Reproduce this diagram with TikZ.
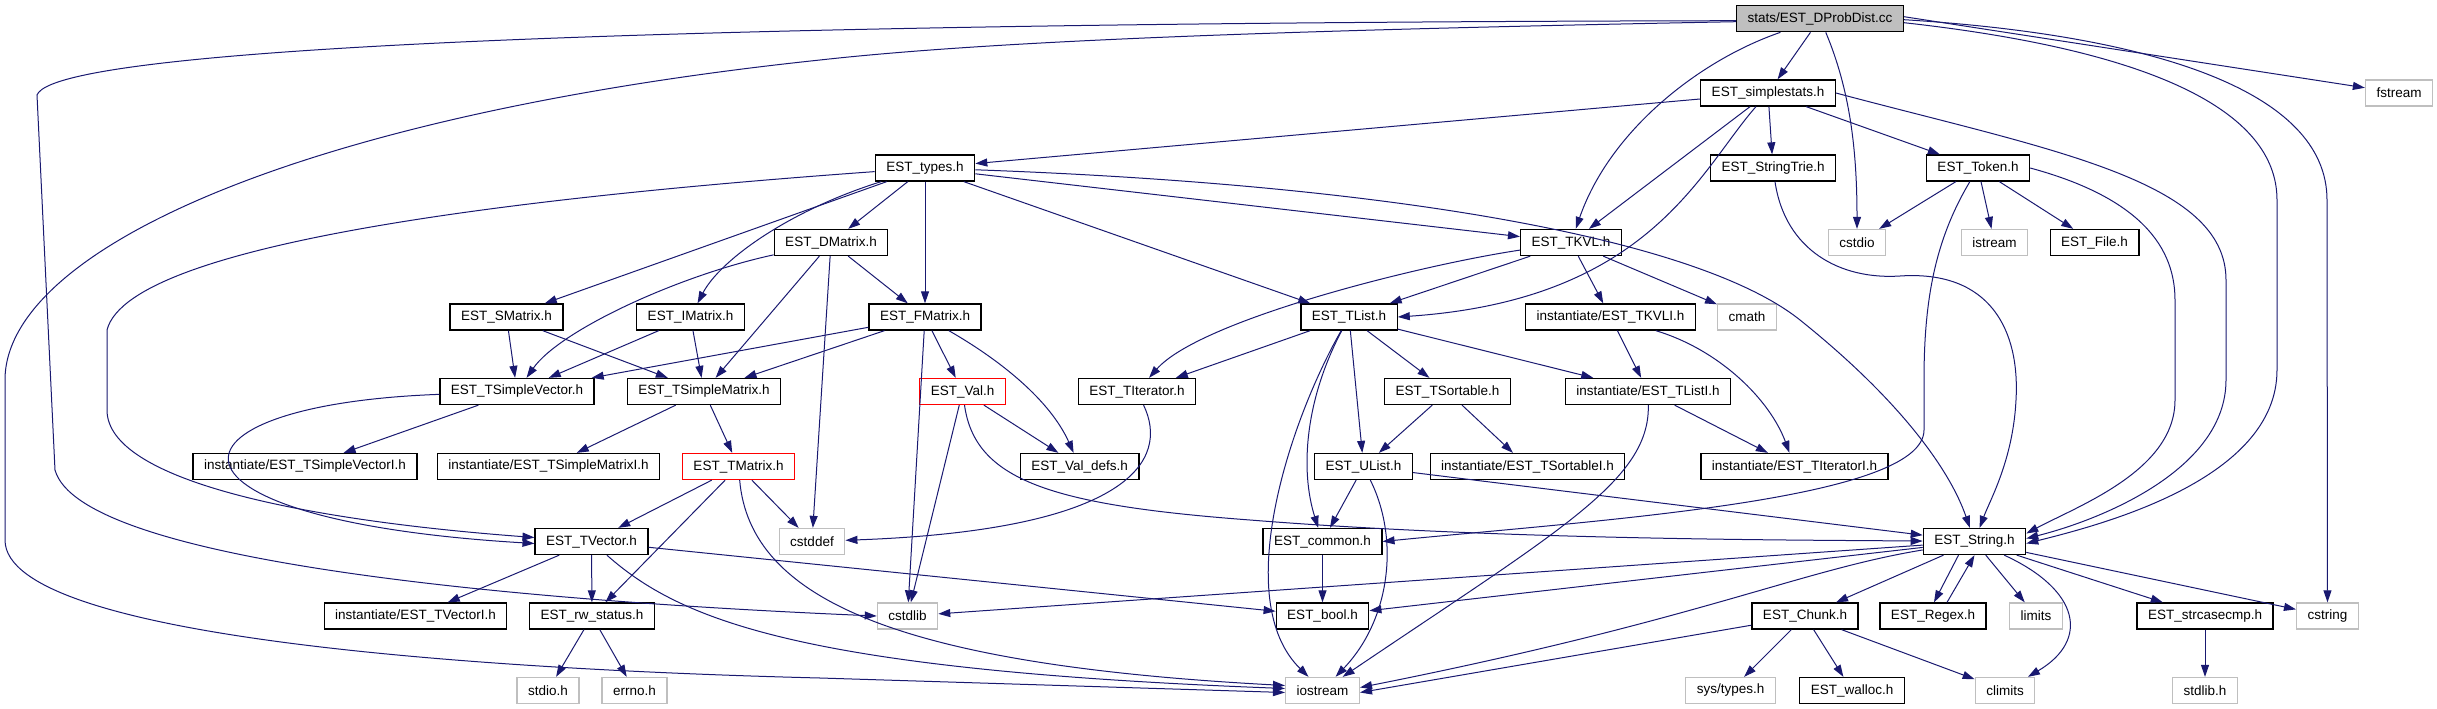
\documentclass[tikz,border=0pt]{standalone}
\usepackage{fontspec}
\setmainfont{Liberation Sans}
\usepackage{xcolor}
\usetikzlibrary{arrows.meta}
\definecolor{edgeblue}{HTML}{191970}
\definecolor{sysgray}{HTML}{BFBFBF}

\begin{document}
\begin{tikzpicture}[
x=1pt,y=-1pt,
every node/.style={
rectangle,
inner xsep=11pt,
inner ysep=0pt,
minimum height=26pt,
line width=1.3pt,
font=\fontsize{13.5}{16}\selectfont
},
hdr/.style={draw=black},
syshdr/.style={draw=sysgray},
badhdr/.style={draw=red},
rootfile/.style={draw=black,fill=sysgray},
dep/.style={draw=edgeblue,line width=1pt,-{Triangle[length=12pt,width=8pt]}}
]
\useasboundingbox (0,0) rectangle (2437,709);

\node[rootfile] (root) at (1820,18.7) {stats/EST\_DProbDist.cc};

\node[hdr] (simplestats) at (1768,93) {EST\_simplestats.h};
\node[syshdr] (fstream) at (2399,93) {fstream};

\node[hdr] (types) at (925,168) {EST\_types.h};
\node[hdr] (stringtrie) at (1773,168) {EST\_StringTrie.h};
\node[hdr] (token) at (1978,168) {EST\_Token.h};

\node[hdr] (dmatrix) at (831,242.5) {EST\_DMatrix.h};
\node[hdr] (tkvl) at (1571,242.5) {EST\_TKVL.h};
\node[syshdr] (cstdio) at (1857,242.5) {cstdio};
\node[syshdr] (istream) at (1994.5,242.5) {istream};
\node[hdr] (file) at (2094.6,242.5) {EST\_File.h};

\node[hdr] (smatrix) at (506.5,317) {EST\_SMatrix.h};
\node[hdr] (imatrix) at (690.5,317) {EST\_IMatrix.h};
\node[hdr] (fmatrix) at (925,317) {EST\_FMatrix.h};
\node[hdr] (tlist) at (1349,317) {EST\_TList.h};
\node[hdr] (tkvli) at (1610.5,317) {instantiate/EST\_TKVLI.h};
\node[syshdr] (cmath) at (1747,317) {cmath};

\node[hdr] (tsvector) at (517,391.5) {EST\_TSimpleVector.h};
\node[hdr] (tsmatrix) at (704,391.5) {EST\_TSimpleMatrix.h};
\node[badhdr] (val) at (962.6,391.5) {EST\_Val.h};
\node[hdr] (titerator) at (1137,391.5) {EST\_TIterator.h};
\node[hdr] (tsortable) at (1447.5,391.5) {EST\_TSortable.h};
\node[hdr] (tlisti) at (1648,391.5) {instantiate/EST\_TListI.h};

\node[hdr] (tsvectori) at (305,466.5) {instantiate/EST\_TSimpleVectorI.h};
\node[hdr] (tsmatrixi) at (548.5,466.5) {instantiate/EST\_TSimpleMatrixI.h};
\node[badhdr] (tmatrix) at (738.5,466.5) {EST\_TMatrix.h};
\node[hdr] (valdefs) at (1079.7,466.5) {EST\_Val\_defs.h};
\node[hdr] (ulist) at (1363.6,466.5) {EST\_UList.h};
\node[hdr] (tsortablei) at (1527.5,466.5) {instantiate/EST\_TSortableI.h};
\node[hdr] (titeratori) at (1794.5,466.5) {instantiate/EST\_TIteratorI.h};

\node[hdr] (tvector) at (591.5,541.5) {EST\_TVector.h};
\node[syshdr] (cstddef) at (812,541.5) {cstddef};
\node[hdr] (common) at (1322.5,541.5) {EST\_common.h};
\node[hdr] (string) at (1974.5,541.5) {EST\_String.h};

\node[hdr] (tvectori) at (415.5,616) {instantiate/EST\_TVectorI.h};
\node[hdr] (rwstatus) at (592,616) {EST\_rw\_status.h};
\node[syshdr] (cstdlib) at (907.5,616) {cstdlib};
\node[hdr] (bool) at (1322.5,616) {EST\_bool.h};
\node[hdr] (chunk) at (1805,616) {EST\_Chunk.h};
\node[hdr] (regex) at (1933,616) {EST\_Regex.h};
\node[syshdr] (limits) at (2036,616) {limits};
\node[hdr] (strcasecmp) at (2205,616) {EST\_strcasecmp.h};
\node[syshdr] (cstring) at (2327.5,616) {cstring};

\node[syshdr] (stdioh) at (548,690.5) {stdio.h};
\node[syshdr] (errno) at (634.5,690.5) {errno.h};
\node[syshdr] (iostream) at (1322.5,690.5) {iostream};
\node[syshdr] (systypes) at (1730.5,690.5) {sys/types.h};
\node[hdr] (walloc) at (1852,690.5) {EST\_walloc.h};
\node[syshdr] (climits) at (2005,690.5) {climits};
\node[syshdr] (stdlibh) at (2205,690.5) {stdlib.h};

\draw[dep] (root) -- (simplestats);
\draw[dep] (root) .. controls (1700,60) and (1610,130) .. (tkvl);
\draw[dep] (root) .. controls (1850,90) and (1857,150) .. (cstdio);
\draw[dep] ([yshift=2pt]root.east) -- (fstream);
\draw[dep] ([yshift=-4pt]root.east) .. controls (2150,50) and (2277,110) .. (2277,200) -- (2277,370) .. controls (2277,480) and (2100,525) .. ([yshift=-2pt]string.east);
\draw[dep] ([yshift=-1pt]root.east) .. controls (2150,35) and (2327,90) .. (2327,200) -- (cstring);
\draw[dep] ([yshift=-2pt]root.west) .. controls (1000,22) and (60,35) .. (37,95) -- (55,470) .. controls (80,560) and (500,600) .. (cstdlib.west);
\draw[dep] ([yshift=-3pt]root.west) .. controls (1300,30) and (1000,40) .. (820,60) .. controls (300,115) and (5,250) .. (5,380) -- (5,540) .. controls (5,640) and (500,670) .. (820,678) -- ([yshift=-2pt]iostream.west);

\draw[dep] (simplestats) -- (types);
\draw[dep] (simplestats) -- (tkvl);
\draw[dep] (simplestats) .. controls (1700,170) and (1650,300) .. (tlist.east);
\draw[dep] (simplestats) -- (stringtrie);
\draw[dep] (simplestats) -- (token);
\draw[dep] (simplestats.east) .. controls (2050,150) and (2226,180) .. (2226,280) -- (2226,380) .. controls (2226,470) and (2100,520) .. ([yshift=3pt]string.east);

\draw[dep] (stringtrie) .. controls (1785,250) and (1840,280) .. (1900,276) .. controls (1990,270) and (2020,330) .. (2016,400) .. controls (2013,460) and (1990,500) .. (string);

\draw[dep] (token) -- (cstdio);
\draw[dep] (token) -- (istream);
\draw[dep] (token) -- (file);
\draw[dep] (token.east) .. controls (2130,195) and (2175,240) .. (2175,300) -- (2175,400) .. controls (2175,470) and (2080,505) .. ([yshift=8pt]string.east);
\draw[dep] (token) .. controls (1935,240) and (1924,300) .. (1924,380) -- (1924,430) .. controls (1924,500) and (1600,520) .. (common.east);

\draw[dep] (types) .. controls (550,195) and (130,240) .. (107,330) -- (107,410) .. controls (107,480) and (300,520) .. ([yshift=4pt]tvector.west);
\draw[dep] (types) -- (smatrix);
\draw[dep] (types) .. controls (790,210) and (720,260) .. (imatrix);
\draw[dep] (types) -- (dmatrix);
\draw[dep] (types) -- (fmatrix);
\draw[dep] (types) -- (tlist);
\draw[dep] (types) -- (tkvl);
\draw[dep] (types) .. controls (1400,185) and (1700,240) .. (1800,320) .. controls (1900,400) and (1950,470) .. (string);

\draw[dep] (dmatrix) -- (fmatrix);
\draw[dep] (dmatrix) -- (cstddef);
\draw[dep] (dmatrix) -- (tsmatrix);
\draw[dep] (dmatrix) .. controls (680,275) and (560,330) .. (tsvector);

\draw[dep] (smatrix) -- (tsvector);
\draw[dep] (smatrix) -- (tsmatrix);
\draw[dep] (imatrix) -- (tsvector);
\draw[dep] (imatrix) -- (tsmatrix);

\draw[dep] (fmatrix) -- (tsvector);
\draw[dep] (fmatrix) -- (tsmatrix);
\draw[dep] (fmatrix) -- (cstdlib);
\draw[dep] (fmatrix) -- (val);
\draw[dep] (fmatrix) .. controls (1000,360) and (1050,400) .. (valdefs);

\draw[dep] (tkvl) -- (tlist);
\draw[dep] (tkvl) -- (tkvli);
\draw[dep] (tkvl) -- (cmath);
\draw[dep] (tkvl) .. controls (1420,265) and (1200,320) .. (titerator);

\draw[dep] (tlist) -- (titerator);
\draw[dep] (tlist) .. controls (1290,420) and (1230,600) .. (iostream);
\draw[dep] (tlist) .. controls (1305,400) and (1300,470) .. (common);
\draw[dep] (tlist) -- (ulist);
\draw[dep] (tlist) -- (tsortable);
\draw[dep] (tlist) -- (tlisti);

\draw[dep] (tkvli) -- (tlisti);
\draw[dep] (tkvli) .. controls (1720,350) and (1770,400) .. (titeratori);
\draw[dep] (tlisti) -- (titeratori);
\draw[dep] (tlisti) .. controls (1650,480) and (1560,530) .. (iostream);

\draw[dep] (tsortable) -- (ulist);
\draw[dep] (tsortable) -- (tsortablei);
\draw[dep] (ulist) -- (common);
\draw[dep] (ulist) .. controls (1400,540) and (1390,620) .. (iostream);
\draw[dep] (ulist) -- (string);
\draw[dep] (common) -- (bool);

\draw[dep] (titerator) .. controls (1170,460) and (1130,530) .. (cstddef);

\draw[dep] (val) -- (valdefs);
\draw[dep] (val) -- (cstdlib);
\draw[dep] (val) .. controls (975,480) and (1050,505) .. (1250,520) .. controls (1500,540) and (1800,540) .. (string);

\draw[dep] (tsvector) -- (tsvectori);
\draw[dep] (tsvector) .. controls (150,405) and (140,520) .. ([yshift=-2pt]tvector.west);
\draw[dep] (tsmatrix) -- (tsmatrixi);
\draw[dep] (tsmatrix) -- (tmatrix);
\draw[dep] (tmatrix) -- (tvector);
\draw[dep] (tmatrix) -- (rwstatus);
\draw[dep] (tmatrix) -- (cstddef);
\draw[dep] (tmatrix) .. controls (750,600) and (900,665) .. ([yshift=5pt]iostream.west);

\draw[dep] (tvector) -- (tvectori);
\draw[dep] (tvector) -- (rwstatus);
\draw[dep] (tvector) -- (bool);
\draw[dep] (tvector) .. controls (680,620) and (800,670) .. ([yshift=2pt]iostream.west);

\draw[dep] (rwstatus) -- (stdioh);
\draw[dep] (rwstatus) -- (errno);

\draw[dep] (string) -- (cstdlib);
\draw[dep] (string) -- (bool);
\draw[dep] (string) .. controls (1800,570) and (1700,620) .. ([yshift=3pt]iostream.east);
\draw[dep] (string) -- (chunk);
\draw[dep] ([xshift=-16pt]string.south) -- ([xshift=1pt]regex.north);
\draw[dep] ([xshift=14pt]regex.north) -- (string.south);
\draw[dep] (string) -- (limits);
\draw[dep] (string) .. controls (2080,590) and (2090,640) .. (climits);
\draw[dep] (string) -- (strcasecmp);
\draw[dep] (string) -- (cstring);

\draw[dep] (chunk) -- ([yshift=-2pt]iostream.east);
\draw[dep] (chunk) -- (systypes);
\draw[dep] (chunk) -- (walloc);
\draw[dep] (chunk) -- (climits);
\draw[dep] (strcasecmp) -- (stdlibh);

\end{tikzpicture}
\end{document}
